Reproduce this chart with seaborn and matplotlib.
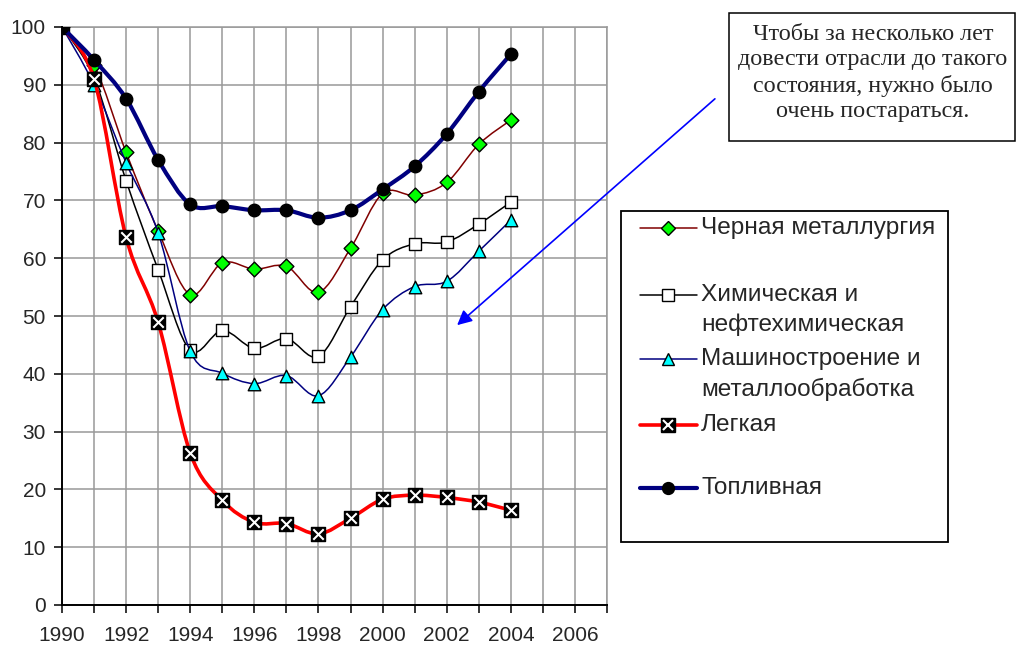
import numpy as np
import pandas as pd
import matplotlib.pyplot as plt
import seaborn as sns
from matplotlib.path import Path
from matplotlib.patches import PathPatch, Rectangle
from matplotlib.lines import Line2D
from matplotlib.ticker import MultipleLocator

# data (index, 1990 = 100)
years = list(range(1990, 2005))
chernaya = [100, 93.4, 78.3, 64.7, 53.7, 59.2, 58.1, 58.6, 54.1, 61.7, 71.2, 70.9, 73.1, 79.7, 83.9]
himiya = [100, 91.2, 73.4, 58.0, 44.1, 47.5, 44.4, 46.1, 43.0, 51.6, 59.7, 62.5, 62.8, 65.9, 69.7]
mash = [100, 90.0, 76.5, 64.4, 43.9, 40.1, 38.3, 39.7, 36.2, 42.9, 51.1, 55.1, 56.0, 61.2, 66.6]
legkaya = [100, 91.0, 63.6, 48.9, 26.3, 18.1, 14.3, 14.1, 12.3, 15.0, 18.3, 19.0, 18.6, 17.8, 16.4]
toplivo = [100, 94.3, 87.6, 77.0, 69.3, 69.0, 68.3, 68.3, 67.0, 68.3, 71.9, 75.9, 81.5, 88.8, 95.3]

labels = [["Черная металлургия"],
          ["Химическая и", "нефтехимическая"],
          ["Машиностроение и", "металлообработка"],
          ["Легкая"],
          ["Топливная"]]

note = "Чтобы за несколько лет\nдовести отрасли до такого\nсостояния, нужно было\nочень постараться."

sns.set_style("white")
plt.rcParams['font.family'] = ['Liberation Sans', 'DejaVu Sans']

df = pd.DataFrame({"year": years * 5,
                   "value": chernaya + himiya + mash + legkaya + toplivo,
                   "series": sum([[" ".join(l)] * len(years) for l in labels], [])})

# line colour, line width, marker, marker face, marker size (pt)
styles = [
    ("#800000", 1.1, "D", "#00ff00", 7.5),
    ("#000000", 1.1, "s", "#ffffff", 8.5),
    ("#000080", 1.1, "^", "#00ffff", 9),
    ("#ff0000", 2.6, "s", "#000000", 10),
    ("#000080", 3.0, "o", "#000000", 9),
]

W, H = 1017, 646
fig = plt.figure(figsize=(W / 100, H / 100), dpi=100)
ax = fig.add_axes([62 / W, 1 - 605 / H, 545 / W, 578 / H])


def smooth_path(x, y):
    pts = np.column_stack([x, y]).astype(float)
    n = len(pts)
    verts, codes = [pts[0]], [Path.MOVETO]
    for i in range(n - 1):
        p0 = pts[max(i - 1, 0)]
        p1, p2 = pts[i], pts[i + 1]
        p3 = pts[min(i + 2, n - 1)]
        verts += [p1 + (p2 - p0) / 6, p2 - (p3 - p1) / 6, p2]
        codes += [Path.CURVE4] * 3
    return Path(verts, codes)


for k, (lab, st) in enumerate(zip(labels, styles)):
    name = " ".join(lab)
    sub = df[df.series == name]
    color, lw, mk, mfc, ms = st
    z = 3 + k * 2
    ax.add_patch(PathPatch(smooth_path(sub.year, sub.value), fill=False,
                           edgecolor=color, lw=lw, zorder=z, capstyle='round'))
    sns.scatterplot(data=sub, x="year", y="value", marker=mk, s=ms ** 2,
                    color=mfc, edgecolor="black", linewidth=1.0,
                    zorder=z + 1, ax=ax, legend=False)
    if k == 3:
        sns.scatterplot(data=sub, x="year", y="value", marker="x", s=(ms * 0.75) ** 2,
                        color="white", linewidth=1.5, zorder=z + 1.5, ax=ax, legend=False)

ax.set_xlim(1990, 2007)
ax.set_ylim(0, 100)
ax.xaxis.set_major_locator(MultipleLocator(2))
ax.xaxis.set_minor_locator(MultipleLocator(1))
ax.yaxis.set_major_locator(MultipleLocator(10))
ax.grid(True, which="both", color="#999999", lw=1.1, zorder=0)
ax.set_axisbelow(True)
ax.tick_params(axis="both", which="both", direction="out", length=5.8, width=1.1,
               color="black", labelsize=15, left=True, bottom=True)
ax.tick_params(axis="x", pad=9.4)
ax.tick_params(axis="y", pad=5.8)
ax.set_xlabel("")
ax.set_ylabel("")
for s in ["top", "right"]:
    ax.spines[s].set_color("#999999")
    ax.spines[s].set_linewidth(1.1)
for s in ["left", "bottom"]:
    ax.spines[s].set_color("black")
    ax.spines[s].set_linewidth(1.4)
    ax.spines[s].set_zorder(20)

# legend drawn by hand to keep Excel-like layout
fx = lambda px: px / W
fy = lambda py: 1 - py / H
fig.add_artist(Rectangle((fx(621), fy(542)), 327 / W, 331 / H, transform=fig.transFigure,
                         fill=False, edgecolor="black", lw=1.3))
rows = [228, 295, 359, 425, 488]
for k, (lab, st, yy) in enumerate(zip(labels, styles, rows)):
    color, lw, mk, mfc, ms = st
    fig.add_artist(Line2D([fx(640), fx(668), fx(697)], [fy(yy)] * 3, transform=fig.transFigure,
                          color=color, lw=lw, marker=mk, markevery=[1], markersize=ms * 0.95,
                          markerfacecolor=mfc, markeredgecolor="black", markeredgewidth=1.0))
    if k == 3:
        fig.add_artist(Line2D([fx(668)], [fy(yy)], transform=fig.transFigure, marker="x",
                              markersize=ms * 0.7, markeredgecolor="white", markeredgewidth=1.5))
    for j, line in enumerate(lab):
        fig.text(fx(701), fy(yy + 30 * j), line, ha="left", va="center", fontsize=17.6)

# note box with arrow
fig.add_artist(Rectangle((fx(729), fy(141)), 286 / W, 128 / H, transform=fig.transFigure,
                         fill=False, edgecolor="black", lw=1.1))
fig.text(fx(873), fy(73), note, ha="center", va="center", fontsize=17.4,
         family=["Liberation Serif", "DejaVu Serif"], linespacing=1.28)
ax.annotate("", xy=(2002.26, 48.1), xycoords="data",
            xytext=(fx(717), fy(97)), textcoords="figure fraction",
            arrowprops=dict(arrowstyle="-|>", color="blue", lw=1.2, mutation_scale=22),
            annotation_clip=False)

plt.savefig("out.png", dpi=100)
